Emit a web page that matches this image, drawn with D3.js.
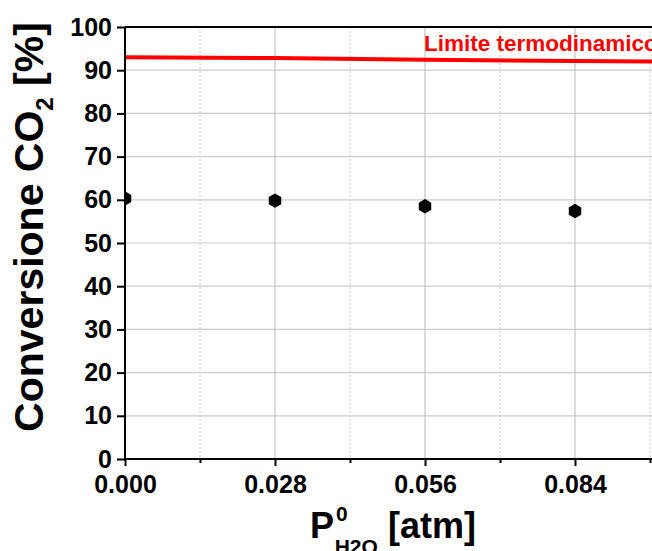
<!DOCTYPE html>
<html>
<head>
<meta charset="utf-8">
<script src="https://cdn.jsdelivr.net/npm/d3@7"></script>
<style>
  html, body { margin: 0; padding: 0; background: #fff; }
  svg { display: block; font-family: "Liberation Sans", Arial, sans-serif; }
</style>
</head>
<body>
<svg id="chart" width="652" height="551"></svg>
<script>
// ---- data ----
const pressures = [0.000, 0.028, 0.056, 0.084];          // P0 H2O [atm]
const conversion = [60.3, 59.8, 58.5, 57.4];             // Conversione CO2 [%]
const limitX = [0.000, 0.028, 0.056, 0.084, 0.100];
const limitY = [93.0, 92.8, 92.4, 92.15, 92.0];          // Limite termodinamico
const xMajorTicks = [0.000, 0.028, 0.056, 0.084];
const xMinorTicks = [0.014, 0.042, 0.070, 0.098];
const yTicks = [0, 10, 20, 30, 40, 50, 60, 70, 80, 90, 100];

// ---- layout ----
const pLeft = 125, pTop = 27, pBottom = 459;
const x = d3.scaleLinear().domain([0, 0.028]).range([pLeft, 275]);
const pRight = x(0.1);
const y = d3.scaleLinear().domain([0, 100]).range([pBottom, pTop]);

const svg = d3.select("#chart");

svg.append("defs").append("clipPath").attr("id", "plotclip")
  .append("rect").attr("x", pLeft).attr("y", pTop)
  .attr("width", pRight - pLeft).attr("height", pBottom - pTop);

// grid
const grid = svg.append("g");
grid.selectAll("line.h").data(yTicks.filter(d => d > 0 && d < 100)).join("line")
  .attr("class", "h")
  .attr("x1", pLeft).attr("x2", pRight)
  .attr("y1", d => y(d)).attr("y2", d => y(d))
  .attr("stroke", "#cccccc").attr("stroke-width", 1.2);
grid.selectAll("line.vmaj").data(xMajorTicks.filter(d => d > 0)).join("line")
  .attr("class", "vmaj")
  .attr("x1", d => x(d)).attr("x2", d => x(d))
  .attr("y1", pTop).attr("y2", pBottom)
  .attr("stroke", "#c4c4c4").attr("stroke-width", 1.2);
grid.selectAll("line.vmin").data(xMinorTicks).join("line")
  .attr("class", "vmin")
  .attr("x1", d => x(d)).attr("x2", d => x(d))
  .attr("y1", pTop).attr("y2", pBottom)
  .attr("stroke", "#cccccc").attr("stroke-width", 1)
  .attr("stroke-dasharray", "2,2");

// thermodynamic limit line
svg.append("path")
  .datum(limitX.map((d, i) => [d, limitY[i]]))
  .attr("clip-path", "url(#plotclip)")
  .attr("fill", "none").attr("stroke", "#ff0000").attr("stroke-width", 4)
  .attr("d", d3.line().x(d => x(d[0])).y(d => y(d[1])));

svg.append("text")
  .attr("x", 424).attr("y", 51)
  .attr("fill", "#ff0000").attr("font-weight", "bold").attr("font-size", 22.5)
  .text("Limite termodinamico");

// points (hexagons)
const r = 7.2;
const hex = d3.range(6).map(i => {
  const a = Math.PI / 3 * i - Math.PI / 2;
  return [r * Math.cos(a), r * Math.sin(a)];
});
const hexPath = "M" + hex.map(p => p.join(",")).join("L") + "Z";
svg.append("g").attr("clip-path", "url(#plotclip)")
  .selectAll("path").data(pressures.map((d, i) => [d, conversion[i]])).join("path")
  .attr("transform", d => `translate(${x(d[0])},${y(d[1])})`)
  .attr("d", hexPath).attr("fill", "#000");

// axes
const yAxis = d3.axisLeft(y).tickValues(yTicks).tickSize(8).tickPadding(5).tickFormat(d3.format("d"));
const gy = svg.append("g").attr("transform", `translate(${pLeft},0)`).call(yAxis);
const xAxis = d3.axisBottom(x).tickValues(xMajorTicks).tickSize(7).tickPadding(9).tickFormat(d3.format(".3f"));
const gx = svg.append("g").attr("transform", `translate(0,${pBottom})`).call(xAxis);
const gxm = svg.append("g").attr("transform", `translate(0,${pBottom})`)
  .call(d3.axisBottom(x).tickValues(xMinorTicks).tickSize(4).tickFormat(""));
gxm.select(".domain").remove();

[gy, gx, gxm].forEach(g => {
  g.selectAll(".domain").attr("stroke", "#000").attr("stroke-width", 2);
  g.selectAll(".tick line").attr("stroke", "#000").attr("stroke-width", 2);
  g.selectAll(".tick text").attr("fill", "#000")
    .attr("font-weight", "bold").attr("font-size", 25)
    .attr("font-family", "'Liberation Sans', Arial, sans-serif");
});
gy.select(".domain").attr("d", `M0,${pBottom}V${pTop}`);
gx.select(".domain").attr("d", `M${pLeft},0H${pRight}`);

// top frame line
svg.append("line").attr("x1", pLeft).attr("x2", pRight).attr("y1", pTop).attr("y2", pTop)
  .attr("stroke", "#000").attr("stroke-width", 2);

// y axis title
const yt = svg.append("text")
  .attr("transform", "translate(43,227) rotate(-90)")
  .attr("text-anchor", "middle")
  .attr("font-weight", "bold").attr("font-size", 41).attr("fill", "#000");
yt.append("tspan").text("Conversione CO");
yt.append("tspan").attr("font-size", 24).attr("dy", 10).text("2");
yt.append("tspan").attr("dy", -10).text(" [%]");

// x axis title
const xt = svg.append("text")
  .attr("x", 310).attr("y", 538)
  .attr("font-weight", "bold").attr("font-size", 36).attr("fill", "#000");
xt.append("tspan").text("P");
xt.append("tspan").attr("font-size", 21).attr("dy", -17).attr("dx", 2).text("0");
xt.append("tspan").attr("font-size", 21).attr("dy", 33).attr("dx", -13).text("H2O");
xt.append("tspan").attr("dy", -16).text(" [atm]");
</script>
</body>
</html>
